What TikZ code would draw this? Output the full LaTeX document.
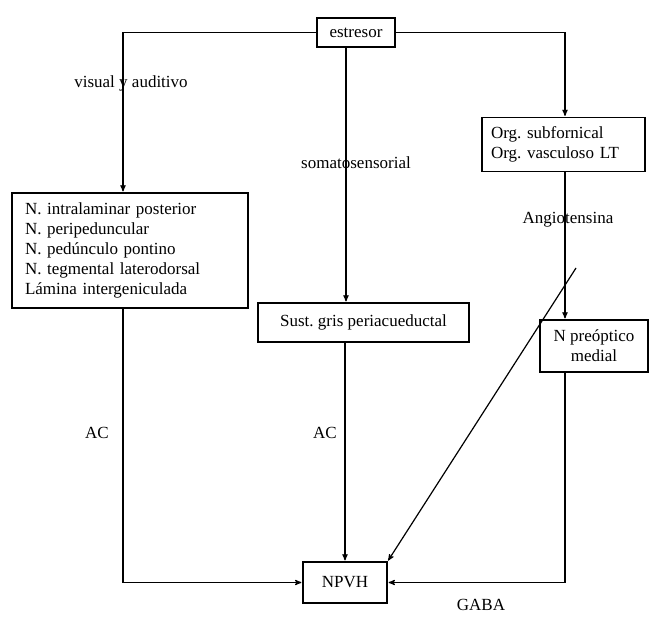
\documentclass[tikz,border=0pt]{standalone}
\usepackage{fontspec}
\setmainfont{Liberation Serif}
\usetikzlibrary{positioning,arrows,calc}
\tikzset{flujo/.style={>=stealth',shorten >=1pt,line width=1.2pt,x=1pt,y=-1pt},
    caja/.style={rectangle,draw,inner sep=0pt,font=\fontsize{17}{20}\selectfont},
    etiqueta/.style={inner sep=0pt,font=\fontsize{17}{20}\selectfont}}
\frenchspacing

\begin{document}
\begin{tikzpicture}[flujo]
    \useasboundingbox (0,0) rectangle (652,616);

    % cajas
    \node[caja,minimum width=78,minimum height=29](estresor) at (356,32.5) {estresor};
    \node[caja,minimum width=236,minimum height=115,text width=210,align=left](nucleos) at (130,250.5)
        {N. intralaminar posterior\\N. peripeduncular\\N. pedúnculo pontino\\N. tegmental laterodorsal\\Lámina intergeniculada};
    \node[caja,minimum width=163,minimum height=54,text width=145,align=left](organos) at (563.5,144.5)
        {Org. subfornical\\Org. vasculoso LT};
    \node[caja,minimum width=211,minimum height=39](sustancia) at (363.5,322.5) {Sust. gris periacueductal};
    \node[caja,minimum width=108,minimum height=52,align=center](preoptico) at (594,346) {N preóptico\\medial};
    \node[caja,minimum width=84,minimum height=41](npvh) at (345,582.5) {NPVH};

    % etiquetas
    \node[etiqueta](visual) at (131,83) {visual y auditivo};
    \node[etiqueta](somato) at (356,163) {somatosensorial};
    \node[etiqueta](angio) at (568,220) {Angiotensina};
    \node[etiqueta](acizq) at (97,433) {AC};
    \node[etiqueta](accen) at (325,433) {AC};
    \node[etiqueta](gaba) at (481,605) {GABA};

    \coordinate (cruce) at (576,268);

    \draw[->] (estresor.west) -| ([xshift=-7]nucleos.north);
    \draw[->] (estresor.east) -| ([xshift=1.5]organos.north);
    \draw[->] ([xshift=-10]estresor.south) -- ([xshift=-10]estresor.south |- sustancia.north);
    \draw[->] ([xshift=1.5]organos.south) -- ([xshift=1.5]organos.south |- preoptico.north);
    \draw[->] (cruce) -- (npvh.north east);
    \draw[->] ([xshift=-7]nucleos.south) |- (npvh.west);
    \draw[->] (sustancia.south -| npvh.north) -- (npvh.north);
    \draw[->] ([xshift=-29]preoptico.south) |- (npvh.east);
\end{tikzpicture}
\end{document}
